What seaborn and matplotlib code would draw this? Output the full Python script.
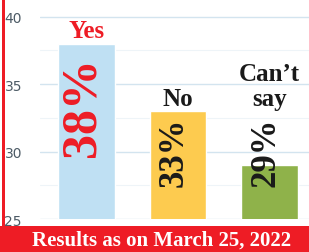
import matplotlib
matplotlib.use('Agg')
import matplotlib.pyplot as plt
import matplotlib.patches as mpatches
import seaborn as sns

# Poll data
answers = ['Yes', 'No', "Can\u2019t\nsay"]
shares = [38, 33, 29]
bar_colors = ['#bfe0f3', '#fdcb4f', '#8fb24a']
label_colors = ['#ee1c25', '#1a1a1a', '#1a1a1a']
yticks = [25, 30, 35, 40]
footer = 'Results as on March 25, 2022'

RED = '#ee1c25'
serif = ['Liberation Serif', 'DejaVu Serif']

sns.set_style('white')

fig = plt.figure(figsize=(3.09, 2.53), dpi=100)
ax = fig.add_axes([40 / 309, 33 / 253, 269 / 309, 220 / 253])

sns.barplot(x=list(range(len(shares))), y=shares, hue=list(range(len(shares))),
            palette=bar_colors, legend=False, width=0.62, saturation=1,
            ax=ax, zorder=2)

ax.set_ylim(25, 25 + 220 / 13.5)
ax.set_xlim(-0.508, -0.508 + 269 / 91.5)
ax.set_yticks(yticks)
ax.set_yticks([27.5, 32.5, 37.5], minor=True)
ax.set_xticks([])
ax.tick_params(axis='y', which='both', length=0, pad=13, labelsize=10,
               labelcolor='#4d5b66')
ax.grid(axis='y', which='major', color='#d3e4ef', linewidth=1.0, zorder=0)
ax.grid(axis='y', which='minor', color='#eef4f8', linewidth=0.8, zorder=0)
ax.set_axisbelow(True)
for s in ax.spines.values():
    s.set_visible(False)
ax.set_xlabel('')
ax.set_ylabel('')

# category labels above bars and rotated percentages inside
for i, (name, v) in enumerate(zip(answers, shares)):
    ax.text(i, max(v, 33) + 0.45, name, ha='center', va='baseline',
            fontsize=18, fontweight='bold', family=serif,
            color=label_colors[i], linespacing=1.1, zorder=4)
    big = i == 0
    ax.text(i - 0.04, (v - 0.9) if big else 32.6, f'{v}%',
            rotation=90, ha='center', va='top',
            fontsize=36 if big else 25, fontweight='bold', family=serif,
            color=label_colors[i], zorder=4)

# red frame line on the left and footer banner
fig.add_artist(mpatches.Rectangle((2 / 309, 26 / 253), 2.5 / 309, 1,
                                  transform=fig.transFigure, color=RED, lw=0))
fig.add_artist(mpatches.Rectangle((0, 0), 1, 26 / 253,
                                  transform=fig.transFigure, color=RED, lw=0))
fig.text(162 / 309, 12.5 / 253, footer, ha='center', va='center',
         fontsize=15, fontweight='bold', family=serif, color='white')

fig.savefig('out.png', dpi=100)
